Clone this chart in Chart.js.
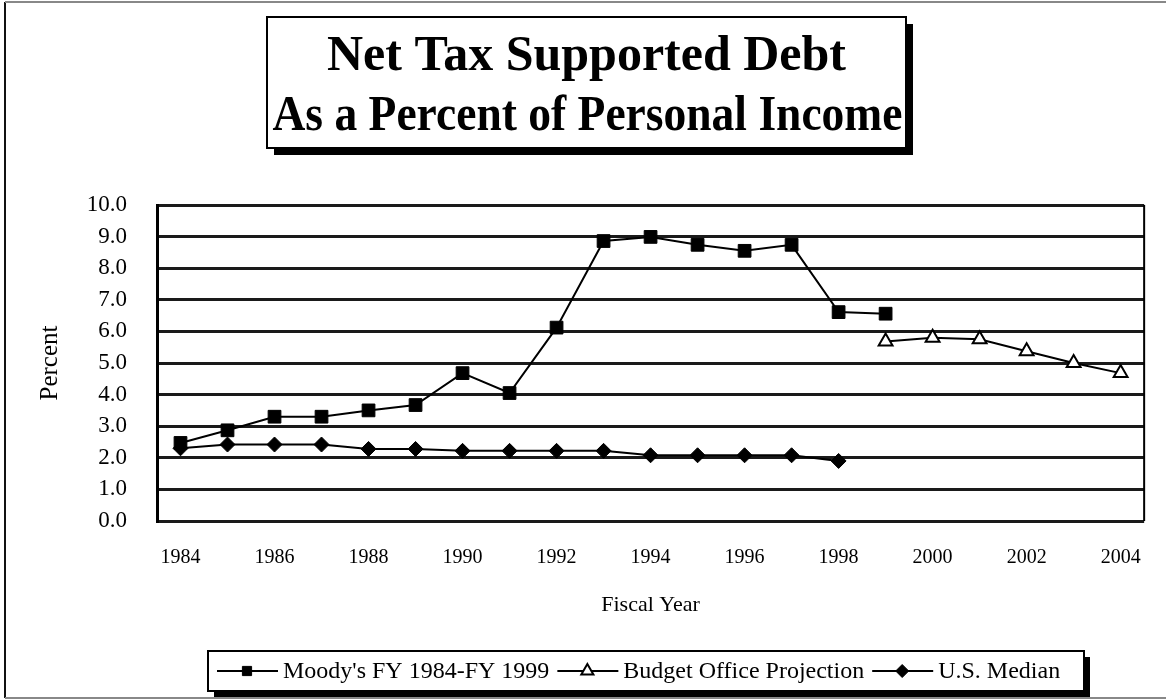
<!DOCTYPE html>
<html>
<head>
<meta charset="utf-8">
<script src="https://cdn.jsdelivr.net/npm/chart.js@4.4.1/dist/chart.umd.min.js"></script>
<style>
  html, body { margin: 0; padding: 0; background: #fff; }
  #wrap { width: 1166px; height: 700px; }
</style>
</head>
<body>
<div id="wrap"><canvas id="debt-chart" width="1166" height="700"></canvas></div>
<script>
// fiscal years on the x axis
var years = ['1984', '1985', '1986', '1987', '1988', '1989', '1990', '1991', '1992', '1993', '1994',
             '1995', '1996', '1997', '1998', '1999', '2000', '2001', '2002', '2003', '2004'];

// percent of personal income
var moodys = [2.47, 2.87, 3.3, 3.3, 3.5, 3.67, 4.68, 4.05, 6.12, 8.86, 8.99,
              8.74, 8.55, 8.74, 6.61, 6.56, null, null, null, null, null];
var projection = [null, null, null, null, null, null, null, null, null, null, null,
                  null, null, null, null, 5.68, 5.8, 5.75, 5.37, 5.0, 4.68];
var median = [2.3, 2.42, 2.42, 2.42, 2.28, 2.28, 2.22, 2.22, 2.22, 2.22, 2.08,
              2.08, 2.08, 2.08, 1.9, null, null, null, null, null, null];

var seriesNames = ["Moody's FY 1984-FY 1999", 'Budget Office Projection', 'U.S. Median'];
var titleLines = ['Net Tax Supported Debt', 'As a Percent of Personal Income'];
var yMin = 0, yMax = 10, yStep = 1;

var serif = "'Liberation Serif', 'Times New Roman', serif";

function marker(ctx, style, x, y, r) {
  ctx.beginPath();
  if (style === 'rect') {
    var s = Math.SQRT1_2 * r;
    ctx.rect(x - s, y - s, 2 * s, 2 * s);
  } else if (style === 'rectRot') {
    ctx.moveTo(x - r, y); ctx.lineTo(x, y - r); ctx.lineTo(x + r, y); ctx.lineTo(x, y + r);
    ctx.closePath();
  } else {
    ctx.moveTo(x, y - r);
    ctx.lineTo(x + Math.sin(2 * Math.PI / 3) * r, y - Math.cos(2 * Math.PI / 3) * r);
    ctx.lineTo(x + Math.sin(4 * Math.PI / 3) * r, y - Math.cos(4 * Math.PI / 3) * r);
    ctx.closePath();
  }
  ctx.fill();
  ctx.stroke();
}

var decorations = {
  id: 'decorations',
  afterDraw: function(chart) {
    var ctx = chart.ctx;
    var area = chart.chartArea;
    ctx.save();

    // outer frame
    ctx.lineWidth = 2;
    ctx.strokeStyle = '#111';
    ctx.beginPath(); ctx.moveTo(5, 2); ctx.lineTo(5, 698); ctx.stroke();
    ctx.strokeStyle = '#888';
    ctx.beginPath(); ctx.moveTo(5, 2); ctx.lineTo(1166, 2); ctx.stroke();
    ctx.beginPath(); ctx.moveTo(5, 698); ctx.lineTo(1166, 698); ctx.stroke();

    // right edge of plot
    ctx.strokeStyle = '#000';
    ctx.lineWidth = 2;
    ctx.beginPath(); ctx.moveTo(area.right, area.top); ctx.lineTo(area.right, area.bottom); ctx.stroke();

    // title box
    ctx.fillStyle = '#000';
    ctx.fillRect(274, 24, 639, 131);
    ctx.fillStyle = '#fff';
    ctx.fillRect(267, 17, 639, 131);
    ctx.lineWidth = 2;
    ctx.strokeRect(267, 17, 639, 131);
    ctx.fillStyle = '#000';
    ctx.font = 'bold 50px ' + serif;
    ctx.textAlign = 'center';
    ctx.textBaseline = 'middle';
    ctx.fillText(titleLines[0], 586.5, 57);
    ctx.fillText(titleLines[1], 587.5, 117, 630);

    // legend box
    ctx.fillRect(214, 657, 876, 40);
    ctx.fillStyle = '#fff';
    ctx.fillRect(208, 651, 876, 40);
    ctx.strokeRect(208, 651, 876, 40);

    ctx.font = '24px ' + serif;
    ctx.textAlign = 'left';
    var x = 217, y = 671;
    chart.data.datasets.forEach(function(ds) {
      ctx.strokeStyle = '#000';
      ctx.lineWidth = 2;
      ctx.beginPath(); ctx.moveTo(x, y); ctx.lineTo(x + 61, y); ctx.stroke();
      ctx.fillStyle = ds.pointBackgroundColor;
      ctx.lineWidth = ds.pointBorderWidth;
      marker(ctx, ds.pointStyle, x + 30, y, ds.pointStyle === 'triangle' ? 7 : 6.5);
      ctx.fillStyle = '#000';
      ctx.fillText(ds.label, x + 66, y + 1);
      x += 66 + ctx.measureText(ds.label).width + 8;
    });
    ctx.restore();
  }
};

var ctx = document.getElementById('debt-chart');
window.debtChart = new Chart(ctx, {
  type: 'line',
  data: {
    labels: years,
    datasets: [{
      label: seriesNames[0],
      data: moodys,
      borderColor: '#000',
      borderWidth: 2,
      pointStyle: 'rect',
      pointRadius: 9,
      pointBackgroundColor: '#000',
      pointBorderColor: '#000',
      pointBorderWidth: 1
    }, {
      label: seriesNames[1],
      data: projection,
      borderColor: '#000',
      borderWidth: 2,
      pointStyle: 'triangle',
      pointRadius: 8,
      pointBackgroundColor: '#fff',
      pointBorderColor: '#000',
      pointBorderWidth: 2
    }, {
      label: seriesNames[2],
      data: median,
      borderColor: '#000',
      borderWidth: 2,
      pointStyle: 'rectRot',
      pointRadius: 7.5,
      pointBackgroundColor: '#000',
      pointBorderColor: '#000',
      pointBorderWidth: 1
    }]
  },
  options: {
    responsive: false,
    animation: false,
    spanGaps: false,
    layout: { padding: { left: 0, top: 205, right: 15, bottom: 0 } },
    plugins: {
      legend: { display: false },
      title: { display: false },
      tooltip: { enabled: false }
    },
    scales: {
      x: {
        offset: true,
        afterFit: function(scale) { scale.height = 179; },
        grid: { display: false, drawTicks: false },
        border: { display: false },
        ticks: {
          autoSkip: false,
          maxRotation: 0,
          padding: 25,
          color: '#000',
          font: { family: serif, size: 20 },
          callback: function(value, index) {
            return index % 2 === 0 ? this.getLabelForValue(value) : '';
          }
        },
        title: {
          display: true,
          text: 'Fiscal Year',
          color: '#000',
          font: { family: serif, size: 22 },
          padding: { top: 0, bottom: 82 }
        }
      },
      y: {
        min: yMin,
        max: yMax,
        afterFit: function(scale) { scale.width = 157; },
        grid: { color: '#1a1a1a', lineWidth: 3, drawTicks: false },
        border: { color: '#000', width: 3 },
        ticks: {
          stepSize: yStep,
          padding: 30,
          color: '#000',
          font: { family: serif, size: 23 },
          callback: function(value) { return value.toFixed(1); }
        },
        title: {
          display: true,
          text: 'Percent',
          color: '#000',
          font: { family: serif, size: 25 },
          padding: { top: 35, bottom: 0 }
        }
      }
    }
  },
  plugins: [decorations]
});
</script>
</body>
</html>
